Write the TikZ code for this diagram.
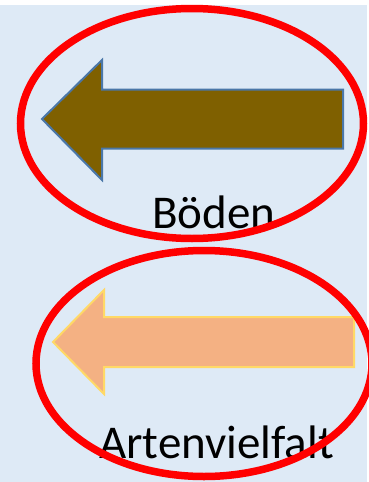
\documentclass[tikz,border=0pt]{standalone}
\usepackage{fontspec}
\setmainfont{Carlito}
\definecolor{bgblue}{HTML}{DEEAF6}
\definecolor{soilbrown}{HTML}{7F6000}
\definecolor{soilline}{HTML}{4A77A8}
\definecolor{salmon}{HTML}{F4B183}
\definecolor{paleyellow}{HTML}{FFD966}
\definecolor{ringred}{HTML}{FF0000}
\tikzset{
  ring/.style={draw=ringred, line width=7.5pt},
  label/.style={anchor=base west, inner sep=0pt, font=\fontsize{47}{51}\selectfont},
}
\begin{document}
\begin{tikzpicture}[x=1pt,y=-1pt]
\useasboundingbox (0,0) rectangle (369,482);
\fill[white] (0,0) rectangle (369,482);
\fill[bgblue] (0,5) rectangle (367,482);
% upper arrow
\draw[fill=soilbrown, draw=soilline, line width=2pt, line join=miter]
  (42,119) -- (102,60) -- (102,89.5) -- (343,89.5) -- (343,148.5) -- (102,148.5) -- (102,180) -- cycle;
\node[label] (boden) at (152,228) {Böden};
% lower arrow
\draw[fill=salmon, draw=paleyellow, line width=2pt, line join=miter]
  (53,342) -- (104,290) -- (104,317) -- (354,317) -- (354,367) -- (104,367) -- (104,394) -- cycle;
\node[label] (arten) at (99,458) {Artenvielfalt};
% rings
\begin{scope}
\clip (0,0) rectangle (369,482);
\draw[ring] (192,123.5) ellipse [x radius=171.5, y radius=115];
\draw[ring] (204,363.5) ellipse [x radius=168, y radius=113];
\end{scope}
\end{tikzpicture}
\end{document}
